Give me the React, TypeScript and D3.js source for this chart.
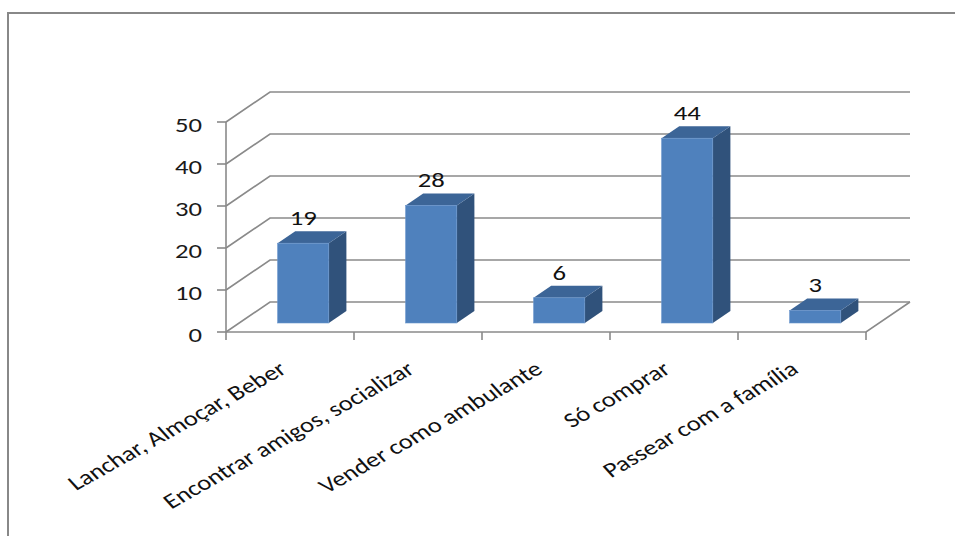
import React from "react";
import * as d3 from "d3";

const categories = [
  "Lanchar, Almoçar, Beber",
  "Encontrar amigos, socializar",
  "Vender como ambulante",
  "Só comprar",
  "Passear com a família",
];
const values = [19, 28, 6, 44, 3];
const yTicks = [0, 10, 20, 30, 40, 50];

const W = 955;
const H = 536;
const X0 = 226;
const X1 = 866;
const DX = 44;
const DY = -30;
const Z0 = 0.3;
const Z1 = 0.7;
const STRETCH = 1.27;
const FONT = "Carlito, Calibri, 'Open Sans', sans-serif";
const FS = 21;

export default function App() {
  const x = d3
    .scaleBand<string>()
    .domain(categories)
    .range([X0, X1])
    .paddingInner(0.6)
    .paddingOuter(0.3);
  const y = d3.scaleLinear().domain([0, 50]).range([332, 122]);
  const step = x.step();
  const bw = x.bandwidth();
  const P = (xv: number, v: number, z: number): [number, number] => [
    xv + z * DX,
    y(v) + z * DY,
  ];
  const poly = (pts: [number, number][]) =>
    pts.map((p) => p.join(",")).join(" ");

  const gridColor = "#8a8a8a";
  const edges = d3.range(categories.length + 1).map((i) => X0 + i * step);

  return (
    <svg
      width={W}
      height={H}
      style={{ position: "absolute", left: 0, top: 0, background: "#fff" }}
    >
      <rect x={8} y={13} width={980} height={560} fill="#fff" stroke="#888" strokeWidth={2} />
      {yTicks.map((t) => {
        const a = P(X0, t, 0);
        const b = P(X0, t, 1);
        const c = P(X1, t, 1);
        return (
          <path
            key={"g" + t}
            d={`M${a[0]},${a[1]}L${b[0]},${b[1]}L${c[0]},${c[1]}`}
            fill="none"
            stroke={gridColor}
            strokeWidth={1.6}
          />
        );
      })}
      <path
        d={`M${P(X0, 0, 0).join(",")}L${P(X1, 0, 0).join(",")}L${P(X1, 0, 1).join(",")}`}
        fill="none"
        stroke={gridColor}
        strokeWidth={1.6}
      />
      <line x1={X0} x2={X0} y1={y(0)} y2={y(50)} stroke={gridColor} strokeWidth={1.6} />
      {yTicks.map((t) => (
        <line key={"yt" + t} x1={X0 - 9} x2={X0} y1={y(t)} y2={y(t)} stroke={gridColor} strokeWidth={1.6} />
      ))}
      {edges.map((e, i) => (
        <line key={"xt" + i} x1={e} x2={e} y1={y(0)} y2={y(0) + 8} stroke={gridColor} strokeWidth={1.6} />
      ))}
      {yTicks.map((t) => (
        <text
          key={"yl" + t}
          transform={`translate(${X0 - 24},${y(t) + 10}) scale(${STRETCH},1)`}
          textAnchor="end"
          fontFamily={FONT}
          fontSize={FS}
          fill="#1a1a1a"
        >
          {t}
        </text>
      ))}
      {categories.map((c, i) => {
        const v = values[i];
        const xl = x(c)!;
        const xr = xl + bw;
        const fTL = P(xl, v, Z0);
        const fBR = P(xr, 0, Z0);
        return (
          <g key={"b" + i}>
            <polygon
              points={poly([P(xr, v, Z0), P(xr, v, Z1), P(xr, 0, Z1), P(xr, 0, Z0)])}
              fill="#30527B"
            />
            <polygon
              points={poly([P(xl, v, Z0), P(xr, v, Z0), P(xr, v, Z1), P(xl, v, Z1)])}
              fill="#3C6597"
            />
            <rect
              x={fTL[0]}
              y={fTL[1]}
              width={fBR[0] - fTL[0]}
              height={fBR[1] - fTL[1]}
              fill="#4F81BD"
              stroke="#6a96cc"
              strokeWidth={0.6}
            />
            <text
              transform={`translate(${fTL[0] + bw / 2},${P(xl, v, Z1)[1] - 6}) scale(${STRETCH},1)`}
              textAnchor="middle"
              fontFamily={FONT}
              fontSize={FS}
              fill="#111"
            >
              {v}
            </text>
          </g>
        );
      })}
      {categories.map((c, i) => (
        <text
          key={"cl" + i}
          transform={`translate(${x(c)! + bw / 2 - 2},372) scale(${STRETCH},1) rotate(-35.5)`}
          textAnchor="end"
          fontFamily={FONT}
          fontSize={FS}
          fill="#111"
        >
          {c}
        </text>
      ))}
    </svg>
  );
}
